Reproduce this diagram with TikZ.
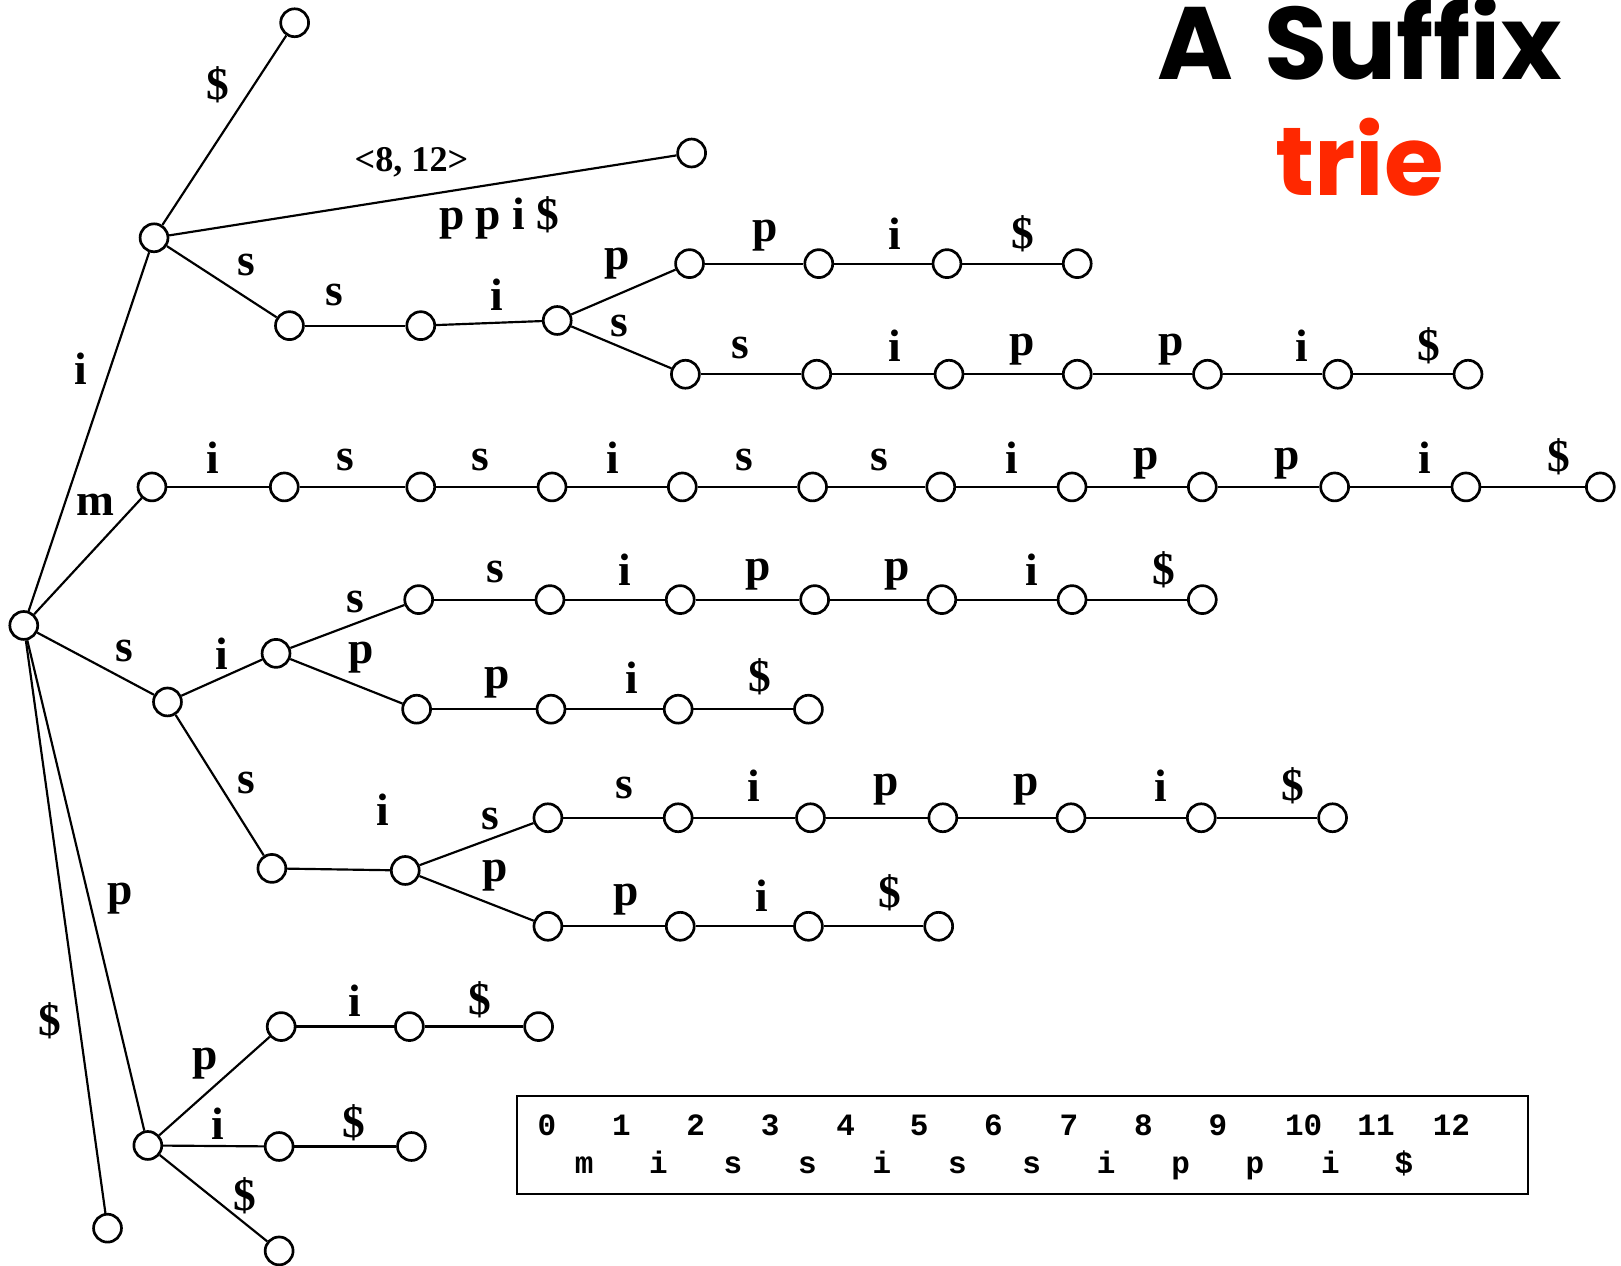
\documentclass[tikz,border=0pt]{standalone}
\usepackage{fontspec}
\setmainfont{Liberation Serif}
\newfontfamily\monof{Liberation Mono}
\newfontfamily\titlef{Poppins}
\definecolor{trieRed}{RGB}{255,40,0}
\begin{document}
\begin{tikzpicture}[x=1pt,y=-1pt,
  nd/.style={circle,draw,line width=2.6pt,minimum size=27pt,inner sep=0pt,fill=white},
  edge/.style={line width=2.1pt},
  lbl/.style={font=\fontsize{44}{44}\selectfont\bfseries,inner sep=0pt},
  small/.style={font=\fontsize{35}{35}\selectfont\bfseries,inner sep=0pt},
  mono/.style={font=\fontsize{30}{30}\selectfont\monof\bfseries,inner sep=0pt,anchor=base},
  boxstyle/.style={draw,line width=2.6pt}]
\useasboundingbox (0,0) rectangle (1568,1224);

% ---------- root ----------
\node[nd] (R) at (23,605) {};

% ---------- i branch ----------
\node[nd] (A) at (149,230) {};
\node[nd] (Atop) at (285,22) {};
\node[nd] (Along) at (669,148) {};
\node[nd] (B) at (280,315) {};
\node[nd] (C) at (407,315) {};
\node[nd] (D) at (539,310) {};
\foreach \x [count=\k] in {667,792,916,1042} \node[nd] (e\k) at (\x,255) {};
\foreach \x [count=\k] in {663,790,918,1042,1168,1294,1420} \node[nd] (f\k) at (\x,362) {};
\draw[edge] (R) -- (A);
\draw[edge] (A) -- (Atop);
\draw[edge] (A) -- (Along);
\draw[edge] (A) -- (B);
\draw[edge] (B) -- (C);
\draw[edge] (C) -- (D);
\draw[edge] (D) -- (e1);
\draw[edge] (D) -- (f1);
\foreach \k [evaluate=\k as \j using int(\k+1)] in {1,2,3} \draw[edge] (e\k) -- (e\j);
\foreach \k [evaluate=\k as \j using int(\k+1)] in {1,...,6} \draw[edge] (f\k) -- (f\j);
\node[lbl] (li) at (78,357) {i};
\node[lbl] (ld1) at (211,82) {\$};
\node[small] (lrange) at (398,157) {<8, 12>};
\node[lbl] (lppi) at (483,211) {p p i \$};
\node[lbl] (ls1) at (238,256) {s};
\node[lbl] (ls2) at (323,285) {s};
\node[lbl] (li2) at (481,285) {i};
\node[lbl] (lp1) at (597,255) {p};
\node[lbl] (ls3) at (599,315) {s};
\foreach \x/\y/\t [count=\k] in {740/228/p,866/226/i,989/226/\$}
  \node[lbl] (el\k) at (\x,\y) {\t};
\foreach \x/\y/\t [count=\k] in {716/337/s,866/334/i,989/338/p,1133/338/p,1259/334/i,1382/334/\$}
  \node[lbl] (fl\k) at (\x,\y) {\t};

% ---------- m branch ----------
\foreach \x [count=\k] in {147,275,407,534,660,786,910,1037,1163,1291,1418,1548} \node[nd] (m\k) at (\x,471) {};
\draw[edge] (R) -- (m1);
\foreach \k [evaluate=\k as \j using int(\k+1)] in {1,...,11} \draw[edge] (m\k) -- (m\j);
\node[lbl] (lm) at (92,488) {m};
\foreach \x/\y/\t [count=\k] in {206/443/i,334/445/s,465/445/s,593/443/i,720/445/s,851/445/s,979/443/i,1109/448/p,1245/448/p,1378/443/i,1508/442/\$}
  \node[lbl] (ml\k) at (\x,\y) {\t};

% ---------- s branch ----------
\node[nd] (S1) at (162,679) {};
\node[nd] (S2) at (267,632) {};
\node[nd] (S3) at (263,840) {};
\node[nd] (S4) at (392,842) {};
\foreach \x [count=\k] in {405,532,658,788,911,1037,1163} \node[nd] (sa\k) at (\x,580) {};
\foreach \x [count=\k] in {403,533,656,782} \node[nd] (sb\k) at (\x,686) {};
\foreach \x [count=\k] in {530,656,784,912,1036,1162,1289} \node[nd] (sc\k) at (\x,791) {};
\foreach \x [count=\k] in {530,658,782,908} \node[nd] (sd\k) at (\x,896) {};
\draw[edge] (R) -- (S1);
\draw[edge] (S1) -- (S2);
\draw[edge] (S2) -- (sa1);
\draw[edge] (S2) -- (sb1);
\draw[edge] (S1) -- (S3);
\draw[edge] (S3) -- (S4);
\draw[edge] (S4) -- (sc1);
\draw[edge] (S4) -- (sd1);
\foreach \k [evaluate=\k as \j using int(\k+1)] in {1,...,6} \draw[edge] (sa\k) -- (sa\j);
\foreach \k [evaluate=\k as \j using int(\k+1)] in {1,2,3} \draw[edge] (sb\k) -- (sb\j);
\foreach \k [evaluate=\k as \j using int(\k+1)] in {1,...,6} \draw[edge] (sc\k) -- (sc\j);
\foreach \k [evaluate=\k as \j using int(\k+1)] in {1,2,3} \draw[edge] (sd\k) -- (sd\j);
\node[lbl] (lsa) at (120,630) {s};
\node[lbl] (lsb) at (215,632) {i};
\node[lbl] (lsc) at (344,582) {s};
\node[lbl] (lsd) at (349,636) {p};
\node[lbl] (lse) at (238,757) {s};
\node[lbl] (lsf) at (370,783) {i};
\node[lbl] (lsg) at (474,792) {s};
\node[lbl] (lsh) at (479,847) {p};
\foreach \x/\y/\t [count=\k] in {479/553/s,604/551/i,733/556/p,868/556/p,998/551/i,1126/551/\$}
  \node[lbl] (sal\k) at (\x,\y) {\t};
\foreach \x/\y/\t [count=\k] in {481/660/p,611/656/i,735/655/\$}
  \node[lbl] (sbl\k) at (\x,\y) {\t};
\foreach \x/\y/\t [count=\k] in {604/762/s,729/760/i,857/764/p,993/764/p,1123/760/i,1251/760/\$}
  \node[lbl] (scl\k) at (\x,\y) {\t};
\foreach \x/\y/\t [count=\k] in {606/870/p,737/866/i,861/864/\$}
  \node[lbl] (sdl\k) at (\x,\y) {\t};

% ---------- p branch ----------
\node[nd] (P1) at (143,1108) {};
\foreach \x [count=\k] in {272,396,521} \node[nd] (pa\k) at (\x,993) {};
\node[nd] (pb1) at (270,1109) {};
\node[nd] (pb2) at (398,1109) {};
\node[nd] (pc) at (270,1210) {};
\draw[edge] (R) -- (P1);
\draw[edge] (P1) -- (pa1);
\draw[edge] (pa1) -- (pa2);
\draw[edge] (pa2) -- (pa3);
\draw[edge] (P1) -- (pb1);
\draw[edge] (pb1) -- (pb2);
\draw[edge] (P1) -- (pc);
\node[lbl] (lpa) at (116,869) {p};
\node[lbl] (lpb) at (198,1029) {p};
\node[lbl] (lpc) at (343,968) {i};
\node[lbl] (lpd) at (464,967) {\$};
\node[lbl] (lpe) at (211,1087) {i};
\node[lbl] (lpf) at (342,1086) {\$};
\node[lbl] (lpg) at (237,1157) {\$};

% ---------- $ branch ----------
\node[nd] (Rd) at (104,1188) {};
\draw[edge] (R) -- (Rd);
\node[lbl] (ldd) at (48,987) {\$};

% ---------- string box ----------
\node[boxstyle,minimum width=978pt,minimum height=95pt,inner sep=0pt] (strbox) at (989,1107.5) {};
\foreach \x/\t [count=\k] in {529/0,601/1,673/2,745/3,818/4,889/5,961/6,1034/7,1106/8,1178/9,1261/10,1331/11,1404/12}
  \node[mono] (num\k) at (\x,1098) {\t};
\foreach \x/\t [count=\k] in {565/m,637/i,709/s,781/s,853/i,926/s,998/s,1070/i,1142/p,1214/p,1287/i,1358/\$}
  \node[mono] (chr\k) at (\x,1135) {\t};

% ---------- title ----------
\node[inner sep=0pt] (title1) at (1315,37) {\resizebox{391pt}{!}{\titlef\bfseries A\hspace{0.3em}Suffix}};
\node[inner sep=0pt,text=trieRed] (title2) at (1315,152) {\resizebox{163pt}{!}{\titlef\bfseries trie}};
\end{tikzpicture}
\end{document}
